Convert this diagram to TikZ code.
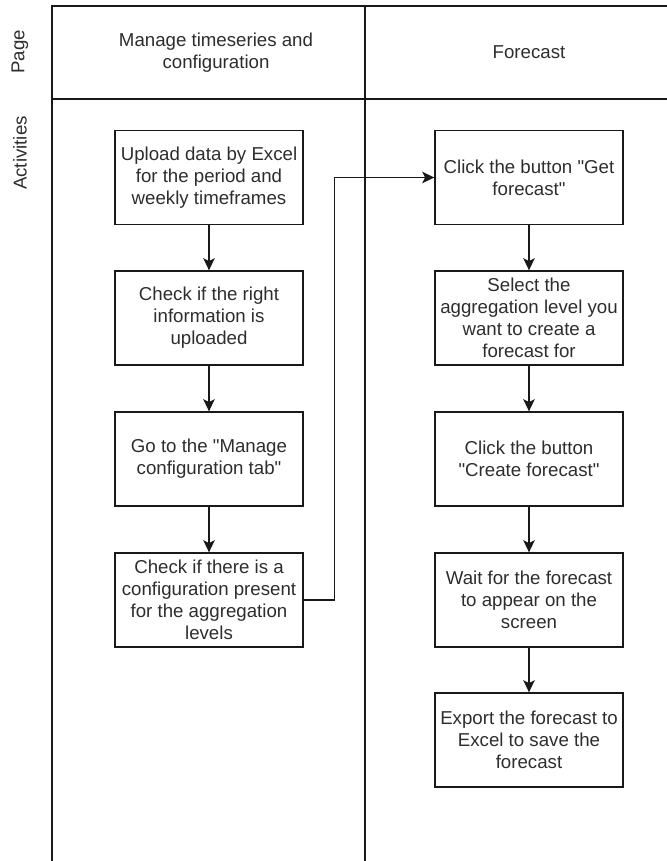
\documentclass[tikz,border=0pt]{standalone}
\usepackage{fontspec}
\setmainfont{Liberation Sans}[Ligatures=TeXOff]
\usetikzlibrary{arrows.meta}
\definecolor{txt}{RGB}{45,45,45}
\definecolor{ln}{RGB}{25,25,25}
\tikzset{
  lane/.style={draw=ln, line width=1.1pt},
  stepbox/.style={draw=ln, line width=1pt, rectangle, minimum width=141pt,
    minimum height=70.5pt, inner sep=2pt, align=center, text=txt,
    font=\fontsize{14}{16.6}\selectfont},
  lbl/.style={text=txt, align=center, font=\fontsize{14}{16.6}\selectfont},
  flow/.style={draw=ln, line width=1pt,
    -{Stealth[length=9pt, width=8.5pt, inset=2pt]}},
}
\begin{document}
\begin{tikzpicture}[x=0.75pt, y=-0.75pt]
  \useasboundingbox (0,0) rectangle (667,861);

  % swimlane grid
  \draw[lane] (52,861) -- (52,6) -- (667,6);
  \draw[lane] (52,99) -- (667,99);
  \draw[lane] (365,6) -- (365,861);

  % row labels
  \node[lbl, rotate=90] (rowpage) at (20,52) {Page};
  \node[lbl, rotate=90] (rowact) at (20,153) {Activities};

  % page headers
  \node[lbl] (hdrmanage) at (216,52.5) {Manage timeseries and\\configuration};
  \node[lbl] (hdrforecast) at (529,52.5) {Forecast};

  % activities: manage timeseries
  \node[stepbox] (L1) at (209,177.5) {Upload data by Excel\\for the period and\\weekly timeframes};
  \node[stepbox] (L2) at (209,318) {Check if the right\\information is\\uploaded};
  \node[stepbox] (L3) at (209,459) {Go to the "Manage\\configuration tab"};
  \node[stepbox] (L4) at (209,600) {Check if there is a\\configuration present\\for the aggregation\\levels};

  % activities: forecast
  \node[stepbox] (R1) at (529,177.5) {Click the button "Get\\forecast"};
  \node[stepbox] (R2) at (529,318) {Select the\\aggregation level you\\want to create a\\forecast for};
  \node[stepbox] (R3) at (529,459) {Click the button\\"Create forecast"};
  \node[stepbox] (R4) at (529,600) {Wait for the forecast\\to appear on the\\screen};
  \node[stepbox] (R5) at (529,740) {Export the forecast to\\Excel to save the\\forecast};

  % flow
  \draw[flow] (L1) -- (L2);
  \draw[flow] (L2) -- (L3);
  \draw[flow] (L3) -- (L4);
  \draw[flow] (L4.east) -- ++(31,0) |- (R1.west);
  \draw[flow] (R1) -- (R2);
  \draw[flow] (R2) -- (R3);
  \draw[flow] (R3) -- (R4);
  \draw[flow] (R4) -- (R5);
\end{tikzpicture}
\end{document}
